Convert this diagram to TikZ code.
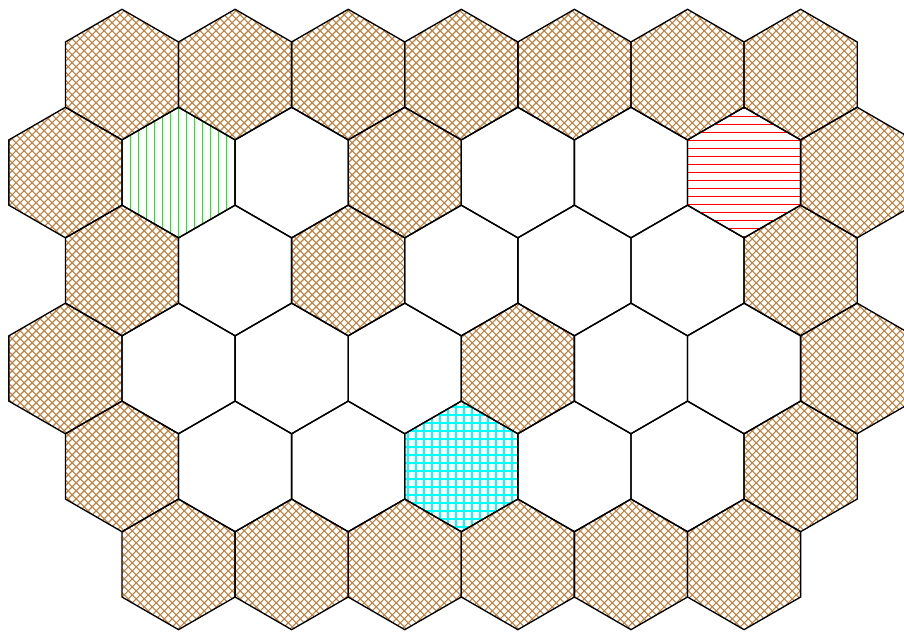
\documentclass[tikz,border=0pt]{standalone}
\usetikzlibrary{patterns}
\begin{document}
\begin{tikzpicture}[x=0.375pt,y=-0.375pt,
  hexedge/.style={draw=black,line width=0.5pt,line join=miter},
  brownhex/.style={pattern=crosshatch,pattern color=brown},
  cyanhex/.style={pattern=grid,pattern color=cyan},
  hatchline/.style={line width=0.4pt}]
\useasboundingbox (0,0) rectangle (904,631);
\fill[white] (0,0) rectangle (904,631);
\clip (0,0) rectangle (904,631);
\def\hexshape{++(0,-65.3) -- ++(56.55,32.65) -- ++(0,65.3) -- ++(-56.55,32.65) -- ++(-56.55,-32.65) -- ++(0,-65.3) -- cycle}
% brown crosshatched cells
\foreach \j/\r in {1/0,3/0,5/0,7/0,9/0,11/0,13/0,
                   0/1,6/1,14/1,
                   1/2,5/2,13/2,
                   0/3,8/3,14/3,
                   1/4,13/4,
                   2/5,4/5,6/5,8/5,10/5,12/5}{
  \pgfmathsetmacro\cx{65.45+56.55*\j}
  \pgfmathsetmacro\cy{74.6+97.95*\r}
  \path[brownhex] (\cx,\cy) \hexshape;
}
% green vertical lines cell
\pgfmathsetmacro\cx{65.45+56.55*2}
\pgfmathsetmacro\cy{74.6+97.95*1}
\begin{scope}
  \clip (\cx,\cy) \hexshape;
  \foreach \k in {-8,...,8}
    \draw[hatchline,green] (\cx+8*\k,\cy-70) -- ++(0,140);
\end{scope}
% red horizontal lines cell
\pgfmathsetmacro\cx{65.45+56.55*12}
\pgfmathsetmacro\cy{74.6+97.95*1}
\begin{scope}
  \clip (\cx,\cy) \hexshape;
  \foreach \k in {-9,...,9}
    \draw[hatchline,red] (\cx-60,\cy+8*\k) -- ++(120,0);
\end{scope}
% cyan grid cell
\pgfmathsetmacro\cx{65.45+56.55*7}
\pgfmathsetmacro\cy{74.6+97.95*4}
\path[cyanhex] (\cx,\cy) \hexshape;
% outlines of all cells
\foreach \j/\r in {1/0,3/0,5/0,7/0,9/0,11/0,13/0,
                   0/1,2/1,4/1,6/1,8/1,10/1,12/1,14/1,
                   1/2,3/2,5/2,7/2,9/2,11/2,13/2,
                   0/3,2/3,4/3,6/3,8/3,10/3,12/3,14/3,
                   1/4,3/4,5/4,7/4,9/4,11/4,13/4,
                   2/5,4/5,6/5,8/5,10/5,12/5}{
  \pgfmathsetmacro\cx{65.45+56.55*\j}
  \pgfmathsetmacro\cy{74.6+97.95*\r}
  \path[hexedge] (\cx,\cy) \hexshape;
}
\end{tikzpicture}
\end{document}
